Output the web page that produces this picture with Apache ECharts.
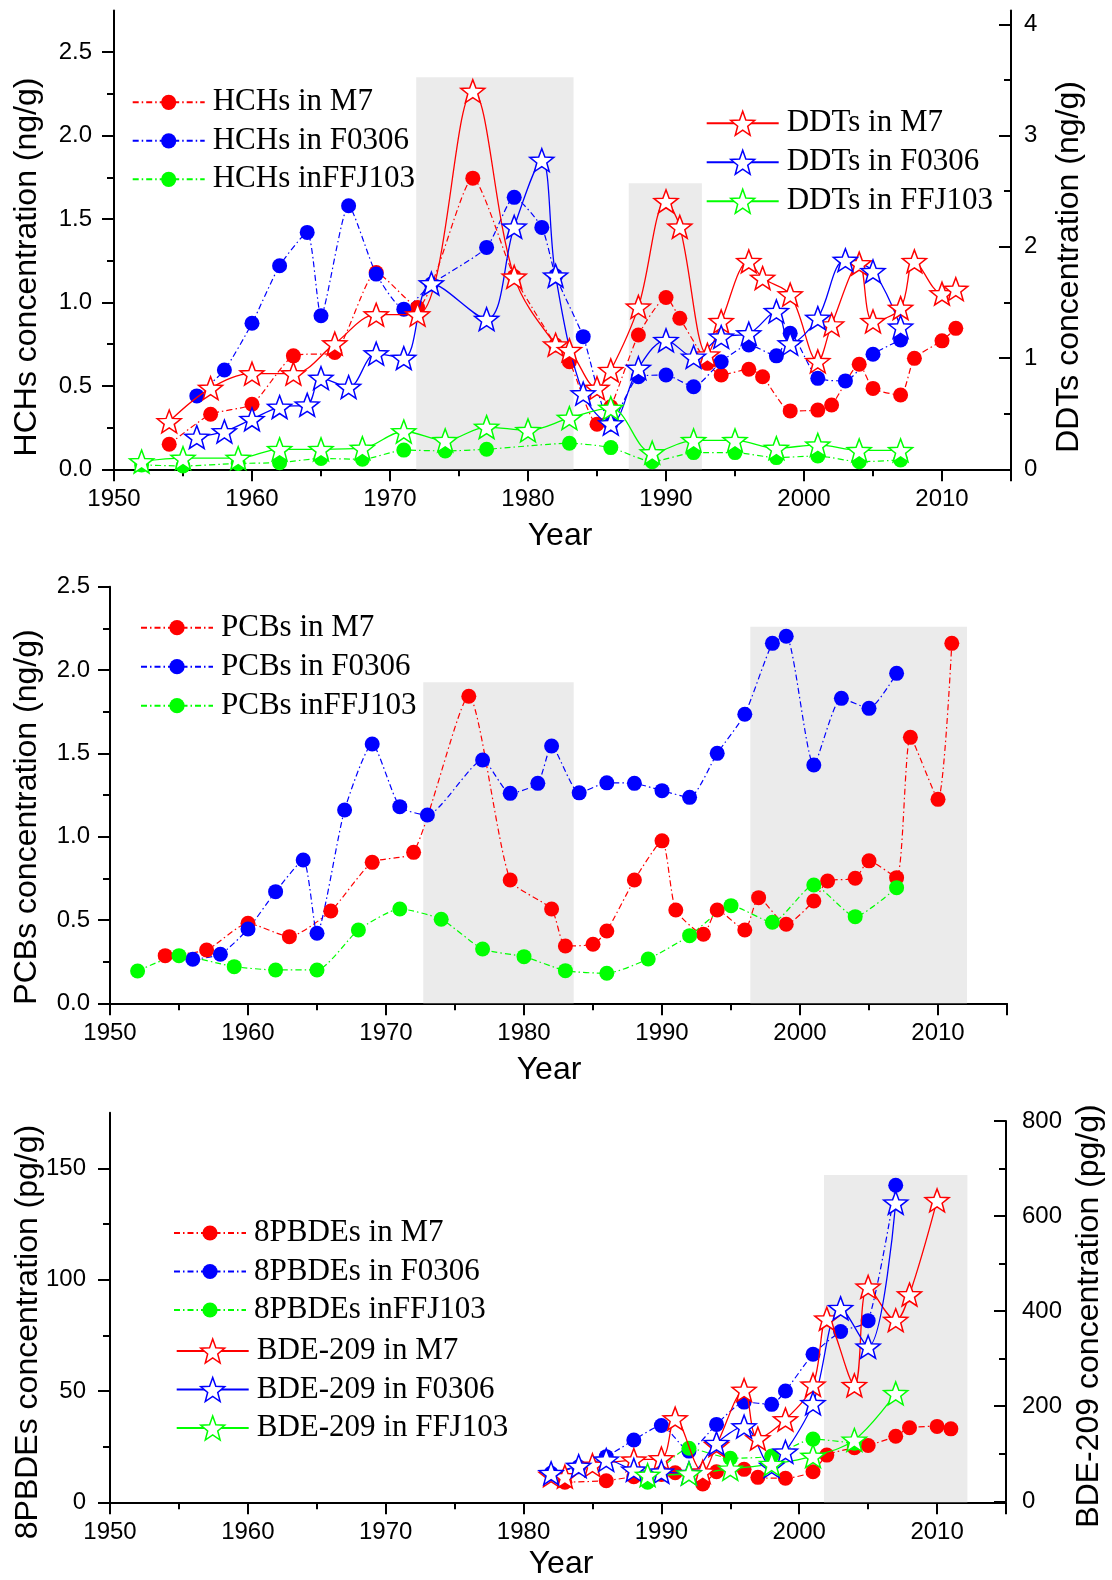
<!DOCTYPE html>
<html><head><meta charset="utf-8">
<script src="https://cdn.jsdelivr.net/npm/echarts@6/dist/echarts.min.js"></script>
<style>html,body{margin:0;padding:0;background:#fff}#c{width:1112px;height:1580px}</style>
</head><body><div id="c"></div><script>
// ---------- Panel 1: HCHs (left axis, ng/g) & DDTs (right axis, ng/g)
const hchM7Years = [1954,1957,1960,1963,1966,1969,1972,1976,1979,1982,1983,1985,1986,1988,1990,1991,1993,1994,1996,1997,1999,2001,2002,2004,2005,2007,2008,2010,2011];
const hchM7 = [0.15,0.33,0.39,0.68,0.70,1.18,0.97,1.745,1.155,0.745,0.645,0.27,0.375,0.805,1.03,0.905,0.635,0.565,0.60,0.555,0.35,0.355,0.385,0.63,0.485,0.445,0.665,0.77,0.845];
const hchF0306Years = [1956,1958,1960,1962,1964,1965,1967,1969,1971,1973,1977,1979,1981,1982,1984,1986,1988,1990,1992,1994,1996,1998,1999,2001,2003,2005,2007];
const hchF0306 = [0.44,0.595,0.875,1.22,1.42,0.92,1.58,1.17,0.96,1.11,1.33,1.63,1.45,1.16,0.795,0.27,0.555,0.565,0.495,0.645,0.745,0.68,0.815,0.545,0.53,0.69,0.775];
const hchFFJYears = [1952,1955,1959,1962,1965,1968,1971,1974,1977,1983,1986,1989,1992,1995,1998,2001,2004,2007];
const hchFFJ = [0.026,0.02,0.035,0.04,0.065,0.06,0.115,0.11,0.12,0.156,0.13,0.046,0.10,0.10,0.07,0.08,0.045,0.056];
const ddtM7Years = [1954,1957,1960,1963,1966,1969,1972,1976,1979,1982,1983,1985,1986,1988,1990,1991,1993,1994,1996,1997,1999,2001,2002,2004,2005,2007,2008,2010,2011];
const ddtM7 = [0.43,0.73,0.86,0.86,1.13,1.39,1.39,3.40,1.73,1.12,1.07,0.73,0.89,1.46,2.41,2.18,1.03,1.33,1.87,1.72,1.57,0.97,1.30,1.85,1.33,1.45,1.87,1.58,1.62];
const ddtF0306Years = [1956,1958,1960,1962,1964,1965,1967,1969,1971,1973,1977,1979,1981,1982,1984,1986,1988,1990,1992,1994,1996,1998,1999,2001,2003,2005,2007];
const ddtF0306 = [0.29,0.34,0.45,0.56,0.58,0.82,0.74,1.04,1.00,1.67,1.35,2.18,2.78,1.74,0.68,0.41,0.91,1.16,1.01,1.19,1.22,1.42,1.13,1.36,1.88,1.78,1.28];
const ddtFFJYears = [1952,1955,1959,1962,1965,1968,1971,1974,1977,1980,1983,1986,1989,1992,1995,1998,2001,2004,2007];
const ddtFFJ = [0.07,0.10,0.10,0.18,0.18,0.19,0.34,0.26,0.38,0.35,0.46,0.55,0.15,0.26,0.26,0.19,0.22,0.17,0.17];
const shade1 = [[1971.9,1983.3,2.35],[1987.3,1992.6,1.715]];
const hchTicks = [0,0.5,1,1.5,2,2.5];
const ddtTicks = [0,1,2,3,4];

// ---------- Panel 2: PCBs (ng/g)
const pcbM7Years = [1954,1957,1960,1963,1966,1969,1972,1976,1979,1982,1983,1985,1986,1988,1990,1991,1993,1994,1996,1997,1999,2001,2002,2004,2005,2007,2008,2010,2011];
const pcbM7 = [0.286,0.32,0.48,0.40,0.554,0.846,0.906,1.843,0.74,0.566,0.344,0.354,0.434,0.74,0.975,0.56,0.414,0.56,0.44,0.634,0.474,0.614,0.734,0.75,0.855,0.754,1.596,1.224,2.16];
const pcbF0306Years = [1956,1958,1960,1962,1964,1965,1967,1969,1971,1973,1977,1979,1981,1982,1984,1986,1988,1990,1992,1994,1996,1998,1999,2001,2003,2005,2007];
const pcbF0306 = [0.264,0.294,0.446,0.67,0.86,0.42,1.16,1.556,1.18,1.13,1.46,1.26,1.32,1.544,1.263,1.323,1.32,1.276,1.236,1.50,1.735,2.16,2.203,1.43,1.83,1.77,1.98];
const pcbFFJYears = [1952,1955,1959,1962,1965,1968,1971,1974,1977,1980,1983,1986,1989,1992,1995,1998,2001,2004,2007];
const pcbFFJ = [0.194,0.286,0.22,0.20,0.20,0.44,0.566,0.504,0.326,0.28,0.196,0.18,0.266,0.406,0.586,0.486,0.71,0.52,0.694];
const shade2 = [[1972.7,1983.6,1.926],[1996.4,2012.1,2.26]];
const pcbTicks = [0,0.5,1,1.5,2,2.5];

// ---------- Panel 3: 8PBDEs (left, pg/g) & BDE-209 (right, pg/g)
const pbdeM7Years = [1983,1986,1988,1990,1991,1993,1994,1996,1997,1999,2001,2002,2004,2005,2007,2008,2010,2011];
const pbdeM7 = [9,9.7,11.5,12.5,13.3,8.2,13.7,14.8,11.2,10.8,13.7,21.2,24.5,25.5,29.7,33.5,34.1,33.0];
const pbdeF0306Years = [1982,1984,1986,1988,1990,1992,1994,1996,1998,1999,2001,2003,2005,2007];
const pbdeF0306 = [13,16,20.5,28,34.5,23,35,45,44,50,66.5,76.7,81.6,142.4];
const pbdeFFJYears = [1989,1992,1995,1998,2001,2004];
const pbdeFFJ = [9,24.3,19.8,20.8,28.4,26.5];
const bdeM7Years = [1982,1983,1985,1988,1990,1991,1993,1994,1996,1997,1999,2001,2002,2004,2005,2007,2008,2010];
const bdeM7 = [55,52,76,87,90,174,62,118,234,132,172,245,384,244,451,381,435,633];
const bdeF0306Years = [1982,1984,1986,1988,1990,1992,1994,1996,1998,1999,2001,2003,2005,2007];
const bdeF0306 = [59,74,87,66,62,59,122,157,74,104,206,406,325,628];
const bdeFFJYears = [1989,1992,1995,1998,2001,2004,2007];
const bdeFFJ = [55,58,68,78,95,129,227];
const shade3 = [[2001.8,2012.2,147]];
const pbdeTicks = [0,50,100,150];
const bdeTicks = [0,200,400,600,800];

const RED = '#ff0000', BLUE = '#0000ff', GREEN = '#00ff00';
const STAR = 'path://M0,-10L2.469,-3.398L9.511,-3.09L3.994,1.298L5.878,8.09L0,4.2L-5.878,8.09L-3.994,1.298L-9.511,-3.09L-2.469,-3.398Z';
const SANS = '"Liberation Sans", Arial, sans-serif';
const SERIF = '"Liberation Serif", "Times New Roman", serif';

function pairs(xs, ys) { return xs.map((x, i) => [x, ys[i]]); }
function dots(name, xs, ys, color, xi, yi) {
  return { name, type: 'line', xAxisIndex: xi, yAxisIndex: yi, data: pairs(xs, ys),
    symbol: 'circle', symbolSize: 15, smooth: 0.2, z: 3, silent: true,
    itemStyle: { color }, lineStyle: { color, width: 1.2, type: [6, 3, 1.5, 3] } };
}
function stars(name, xs, ys, color, xi, yi) {
  return { name, type: 'line', xAxisIndex: xi, yAxisIndex: yi, data: pairs(xs, ys),
    symbol: STAR, symbolSize: 24, symbolKeepAspect: true, smooth: 0.35, z: 4, silent: true,
    itemStyle: { color: '#ffffff', borderColor: color, borderWidth: 1.5 },
    lineStyle: { color, width: 1.3, type: 'solid' } };
}
function shade(list, xi, yi) {
  return { type: 'line', xAxisIndex: xi, yAxisIndex: yi, data: [], silent: true, z: 1,
    markArea: { silent: true, itemStyle: { color: '#ebebeb' },
      data: list.map(s => [{ coord: [s[0], 0] }, { coord: [s[1], s[2]] }]) } };
}
function xAx(gi, show) {
  return { type: 'value', gridIndex: gi, min: 1950, max: 2015, interval: 10, show: show !== false,
    axisLine: { show: true, onZero: false, lineStyle: { color: '#000', width: 2 } },
    axisTick: { show: true, length: 12, lineStyle: { color: '#000', width: 2 } },
    minorTick: { show: true, splitNumber: 2, length: 7, lineStyle: { color: '#000', width: 2 } },
    splitLine: { show: false }, minorSplitLine: { show: false },
    axisLabel: { show: true, margin: 18, fontSize: 24, fontFamily: SANS, color: '#000',
      showMaxLabel: false, formatter: v => String(v) } };
}
function yAx(gi, pos, max, interval, ticks, fmt, margin) {
  const right = pos === 'right';
  return { type: 'value', gridIndex: gi, position: pos, min: 0, max, interval,
    axisLine: { show: true, onZero: false, lineStyle: { color: '#000', width: 2 } },
    axisTick: { show: true, inside: right, length: 12, customValues: ticks, lineStyle: { color: '#000', width: 2 } },
    minorTick: { show: true, splitNumber: 2, length: 7, lineStyle: { color: '#000', width: 2 } },
    splitLine: { show: false }, minorSplitLine: { show: false },
    axisLabel: { show: true, margin, fontSize: 24, fontFamily: SANS, color: '#000', customValues: ticks,
      showMaxLabel: true, showMinLabel: true, formatter: fmt } };
}
function legend(names, left, top, ih, gap) {
  return { data: names, orient: 'vertical', left, top, itemWidth: 72, itemHeight: ih, itemGap: gap,
    padding: 0, selectedMode: false,
    itemStyle: { borderWidth: 1.5 },
    textStyle: { fontFamily: SERIF, fontSize: 31, color: '#000', padding: [0, 0, 0, 3] } };
}
function title(text, x, y, rot) {
  return { type: 'text', x, y, rotation: rot ? Math.PI / 2 : 0, silent: true,
    style: { text, fill: '#000', fontSize: 32, fontFamily: SANS,
      align: 'center', verticalAlign: 'middle', textAlign: 'center', textVerticalAlign: 'middle' } };
}

const chart = echarts.init(document.getElementById('c'), null, { renderer: 'canvas' });
chart.setOption({
  animation: false,
  backgroundColor: '#fff',
  grid: [
    { left: 114, top: 10.5, width: 897, height: 458.8, outerBoundsMode: 'none', containLabel: false },
    { left: 110, top: 586.7, width: 897, height: 416.6, outerBoundsMode: 'none', containLabel: false },
    { left: 110, top: 1112.7, width: 896, height: 389.6, outerBoundsMode: 'none', containLabel: false },
    { left: 110, top: 1121, width: 896, height: 380.3, outerBoundsMode: 'none', containLabel: false }
  ],
  xAxis: [xAx(0), xAx(1), xAx(2), xAx(3, false)],
  yAxis: [
    yAx(0, 'left', 2.75, 0.5, hchTicks, v => Number(v).toFixed(1), 22),
    yAx(0, 'right', 4.125, 1, ddtTicks, v => String(v), 13),
    yAx(1, 'left', 2.5, 0.5, pcbTicks, v => Number(v).toFixed(1), 20),
    yAx(2, 'left', 175, 50, pbdeTicks, v => String(v), 24),
    yAx(3, 'right', 800, 200, bdeTicks, v => String(v), 16)
  ],
  legend: [
    legend(['HCHs in M7', 'HCHs in F0306', 'HCHs inFFJ103'], 131.7, 86.8, 19, 7.5),
    legend(['DDTs in M7', 'DDTs in F0306', 'DDTs in FFJ103'], 705.7, 107.8, 30, 8),
    legend(['PCBs in M7', 'PCBs in F0306', 'PCBs inFFJ103'], 140, 612.2, 19, 8),
    legend(['8PBDEs in M7', '8PBDEs in F0306', '8PBDEs inFFJ103'], 173, 1217.5, 19, 7.5),
    legend(['BDE-209 in M7', 'BDE-209 in F0306', 'BDE-209 in FFJ103'], 175.7, 1335.5, 30, 7.5)
  ],
  graphic: [
    title('HCHs concentration (ng/g)', 27, 267, true),
    title('DDTs concentration (ng/g)', 1069, 267, true),
    title('PCBs concentration (ng/g)', 27, 817, true),
    title('8PBDEs concentration (pg/g)', 28, 1332, true),
    title('BDE-209 concentration (pg/g)', 1089, 1316, true),
    title('Year', 560, 536, false),
    title('Year', 549, 1070, false),
    title('Year', 561, 1564, false)
  ],
  series: [
    shade(shade1, 0, 0),
    dots('HCHs in M7', hchM7Years, hchM7, RED, 0, 0),
    dots('HCHs in F0306', hchF0306Years, hchF0306, BLUE, 0, 0),
    dots('HCHs inFFJ103', hchFFJYears, hchFFJ, GREEN, 0, 0),
    stars('DDTs in M7', ddtM7Years, ddtM7, RED, 0, 1),
    stars('DDTs in F0306', ddtF0306Years, ddtF0306, BLUE, 0, 1),
    stars('DDTs in FFJ103', ddtFFJYears, ddtFFJ, GREEN, 0, 1),

    shade(shade2, 1, 2),
    dots('PCBs in M7', pcbM7Years, pcbM7, RED, 1, 2),
    dots('PCBs in F0306', pcbF0306Years, pcbF0306, BLUE, 1, 2),
    dots('PCBs inFFJ103', pcbFFJYears, pcbFFJ, GREEN, 1, 2),

    shade(shade3, 2, 3),
    dots('8PBDEs in M7', pbdeM7Years, pbdeM7, RED, 2, 3),
    dots('8PBDEs in F0306', pbdeF0306Years, pbdeF0306, BLUE, 2, 3),
    dots('8PBDEs inFFJ103', pbdeFFJYears, pbdeFFJ, GREEN, 2, 3),
    stars('BDE-209 in M7', bdeM7Years, bdeM7, RED, 3, 4),
    stars('BDE-209 in F0306', bdeF0306Years, bdeF0306, BLUE, 3, 4),
    stars('BDE-209 in FFJ103', bdeFFJYears, bdeFFJ, GREEN, 3, 4)
  ]
});
</script></body></html>
